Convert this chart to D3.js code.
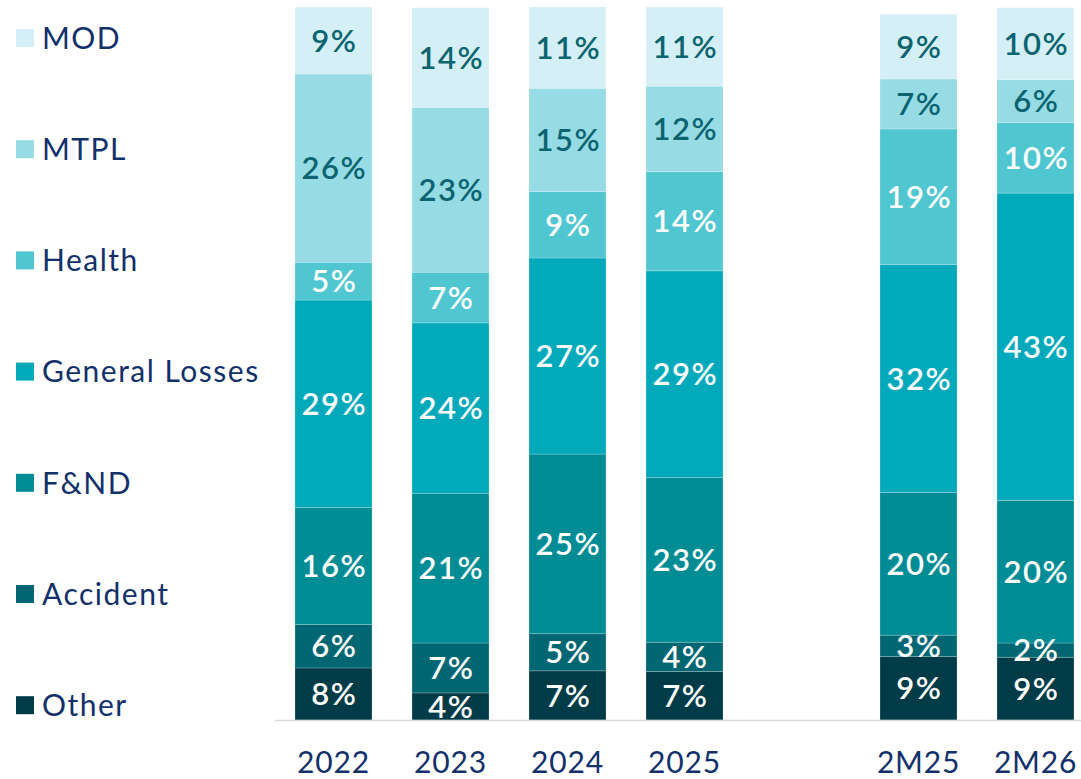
<!DOCTYPE html>
<html>
<head>
<meta charset="utf-8">
<script src="https://cdn.jsdelivr.net/npm/d3@7"></script>
<style>
  body { margin: 0; background: #fff; }
  text { font-family: Lato, "Noto Sans", sans-serif; }
</style>
</head>
<body>
<script>
(function () {

  // bar categories, the empty slot 4 is the gap before the 2M columns
  let categories = ['2022', '2023', '2024', '2025', '2M25', '2M26'];
  let slots      = [0, 1, 2, 3, 5, 6];

  // stack order, bottom to top
  let seriesNames = ['Other', 'Accident', 'F&ND', 'General Losses', 'Health', 'MTPL', 'MOD'];

  // shares (%), as drawn
  let other    = [7.3, 3.8, 6.9, 6.8, 8.9, 8.8];
  let accident = [6.1, 7.0, 5.2, 4.1, 3.0, 2.0];
  let fnd      = [16.4, 21.0, 25.2, 23.1, 20.0, 20.0];
  let general  = [29.1, 23.9, 27.5, 29.0, 32.0, 43.1];
  let health   = [5.3, 7.1, 9.3, 13.9, 19.0, 9.9];
  let mtpl     = [26.4, 23.1, 14.5, 12.0, 7.0, 6.0];
  let mod      = [9.4, 14.0, 11.4, 11.1, 9.1, 10.1];

  // printed labels (%)
  let otherLbl    = [8, 4, 7, 7, 9, 9];
  let accidentLbl = [6, 7, 5, 4, 3, 2];
  let fndLbl      = [16, 21, 25, 23, 20, 20];
  let generalLbl  = [29, 24, 27, 29, 32, 43];
  let healthLbl   = [5, 7, 9, 14, 19, 10];
  let mtplLbl     = [26, 23, 15, 12, 7, 6];
  let modLbl      = [9, 14, 11, 11, 9, 10];

  let colors    = ['#003c48', '#006671', '#008c95', '#02a9bb', '#50c6d0', '#97dbe5', '#d4eff5'];
  let textColor = ['#fff', '#fff', '#fff', '#fff', '#fff', '#0b6470', '#0b6470'];

  let valueCols = [other, accident, fnd, general, health, mtpl, mod];
  let labelCols = [otherLbl, accidentLbl, fndLbl, generalLbl, healthLbl, mtplLbl, modLbl];

  let rows = categories.map(function (c, i) {
    let r = { cat: c, slot: slots[i], idx: i };
    seriesNames.forEach(function (s, j) { r[s] = valueCols[j][i]; });
    return r;
  });

  let width = 1081, height = 779;
  let baseline = 720;

  let svg = d3.select('body').append('svg')
      .attr('width', width)
      .attr('height', height);

  let x = d3.scaleBand()
      .domain(d3.range(7))
      .range([295, 1074])
      .paddingInner(0.342)
      .paddingOuter(0);

  let y = d3.scaleLinear().domain([0, 100]).range([baseline, 7]);

  let stacked = d3.stack().keys(seriesNames)(rows);

  let layers = svg.selectAll('g.layer').data(stacked)
    .enter().append('g')
      .attr('class', 'layer')
      .attr('fill', function (d, i) { return colors[i]; });

  layers.selectAll('rect').data(function (d) { return d; })
    .enter().append('rect')
      .attr('x', function (d) { return x(d.data.slot); })
      .attr('y', function (d) { return y(d[1]); })
      .attr('width', x.bandwidth())
      .attr('height', function (d) { return y(d[0]) - y(d[1]); })
      .attr('stroke', 'rgba(255,255,255,0.25)')
      .attr('stroke-width', 0.8);

  // labels drawn after all rects so small segments don't get covered
  let labels = svg.selectAll('g.labels').data(stacked)
    .enter().append('g')
      .attr('class', 'labels');

  labels.each(function (layer, k) {
    d3.select(this).selectAll('text').data(layer)
      .enter().append('text')
        .attr('x', function (d) { return x(d.data.slot) + x.bandwidth() / 2 + 0.75; })
        .attr('y', function (d) { return (y(d[0]) + y(d[1])) / 2; })
        .attr('dy', '0.36em')
        .attr('text-anchor', 'middle')
        .attr('font-size', 31)
        .attr('font-weight', 600)
        .attr('letter-spacing', 1.5)
        .attr('fill', textColor[k])
        .text(function (d) { return labelCols[k][d.data.idx] + '%'; });
  });

  // baseline
  svg.append('line')
    .attr('x1', 275).attr('x2', width)
    .attr('y1', baseline + 0.5).attr('y2', baseline + 0.5)
    .attr('stroke', '#d9d9d9')
    .attr('stroke-width', 1.5);

  let xAxis = d3.axisBottom(x)
      .tickValues(slots)
      .tickFormat(function (s) { return categories[slots.indexOf(s)]; })
      .tickSize(0)
      .tickPadding(32);

  let ax = svg.append('g')
      .attr('transform', 'translate(0,' + baseline + ')')
      .call(xAxis);
  ax.select('.domain').remove();
  ax.selectAll('text')
    .attr('font-size', 30)
    .attr('letter-spacing', 0.8)
    .attr('font-family', 'Lato, "Noto Sans", sans-serif')
    .attr('fill', '#12306a');

  // legend, top to bottom
  let legendNames = seriesNames.slice().reverse();
  let legend = svg.selectAll('g.legend').data(legendNames)
    .enter().append('g')
      .attr('class', 'legend')
      .attr('transform', function (d, i) { return 'translate(16,' + (38 + i * 111.2) + ')'; });

  legend.append('rect')
    .attr('x', 0).attr('y', -9)
    .attr('width', 18).attr('height', 18)
    .attr('fill', function (d) { return colors[seriesNames.indexOf(d)]; });

  legend.append('text')
    .attr('x', 26)
    .attr('dy', '0.36em')
    .attr('font-size', 30)
    .attr('letter-spacing', 1.5)
    .attr('fill', '#12306a')
    .text(function (d) { return d; });

})();
</script>
</body>
</html>
